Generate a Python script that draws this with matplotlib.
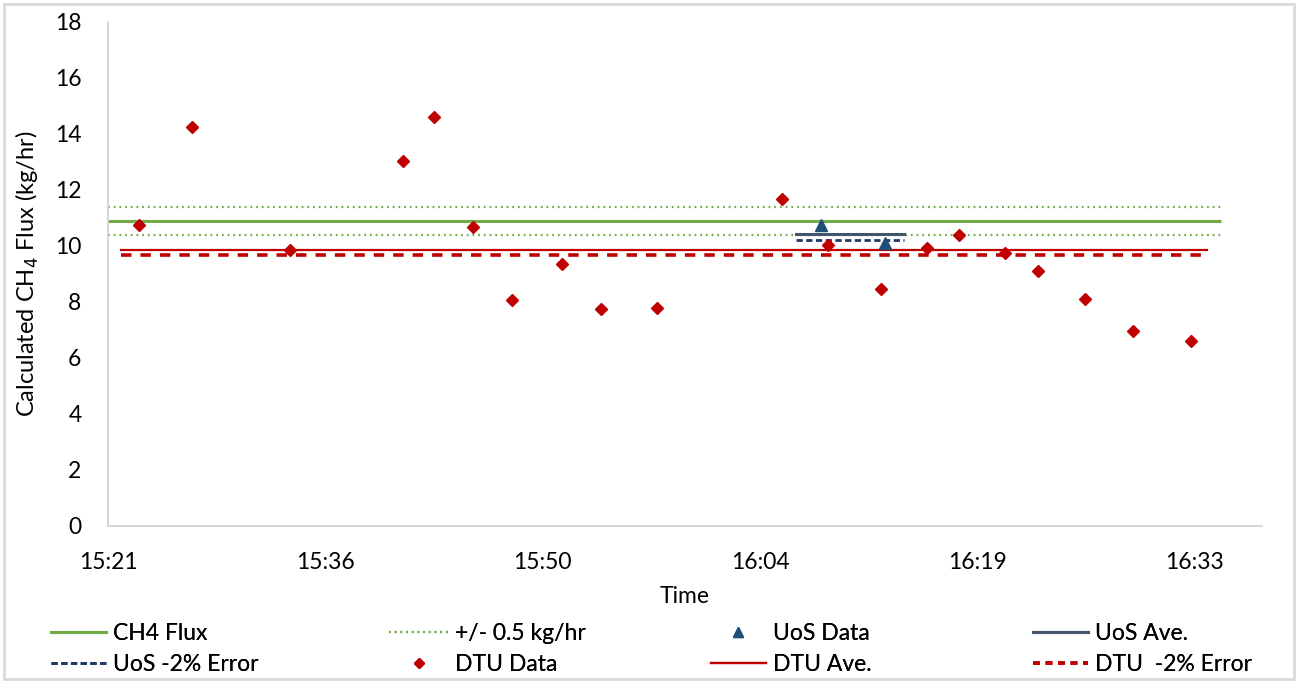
import matplotlib
matplotlib.use('Agg')
import matplotlib.pyplot as plt
from matplotlib.ticker import FuncFormatter, MultipleLocator
from matplotlib.patches import Rectangle
from matplotlib.lines import Line2D

plt.rcParams['font.family'] = ['Lato', 'DejaVu Sans']
plt.rcParams['lines.scale_dashes'] = False

##########################################################
# data (times as hh:mm:ss, flux in kg/hr)
dtu_time = ['15:23:40', '15:27:10', '15:33:38', '15:41:07', '15:43:14',
            '15:45:49', '15:48:24', '15:51:39', '15:54:15', '15:57:59',
            '16:06:14', '16:09:18', '16:12:50', '16:15:54', '16:17:59',
            '16:21:01', '16:23:15', '16:26:21', '16:29:32', '16:33:21']
dtu_flux = [10.75, 14.25, 9.87, 13.05, 14.6,
            10.69, 8.07, 9.35, 7.76, 7.8,
            11.68, 10.04, 8.45, 9.94, 10.38,
            9.76, 9.1, 8.11, 6.98, 6.6]

uos_time = ['16:08:51', '16:13:06']
uos_flux = [10.75, 10.1]

ch4_time = ['15:21:36', '16:35:19']
ch4_flux = 10.9
ch4_err = 0.5

dtu_ave_time = ['15:22:26', '16:34:27']
dtu_ave = 9.87
uos_ave_time = ['16:07:12', '16:14:20']
uos_ave = 10.43
err_frac = 0.02
########################################################

def to_day(t):
    hh, mm, ss = [float(v) for v in t.split(':')]
    return (hh * 3600.0 + mm * 60.0 + ss) / 86400.0

def fmt_time(x, pos):
    s = int(round(x * 86400.0))
    return '%d:%02d' % (s // 3600, (s % 3600) // 60)

dtu_x = [to_day(t) for t in dtu_time]
uos_x = [to_day(t) for t in uos_time]
ch4_x = [to_day(t) for t in ch4_time]
dave_x = [to_day(t) for t in dtu_ave_time]
uave_x = [to_day(t) for t in uos_ave_time]

fig = plt.figure(figsize=(12.98, 6.81), dpi=100)
fig.patches.append(Rectangle((0.003, 0.003), 0.994, 0.991, transform=fig.transFigure,
                             fill=False, edgecolor='#D9D9D9', linewidth=2))
ax = fig.add_axes([108/1298, 1-526/681, (1262-108)/1298, 504/681])

green = '#70AD47'
red = '#C00000'

ax.plot(ch4_x, [ch4_flux]*2, color=green, lw=2.2, solid_capstyle='butt')
ax.plot(ch4_x, [ch4_flux + ch4_err]*2, color=green, lw=1.6, dashes=(1.3, 2.8))
ax.plot(ch4_x, [ch4_flux - ch4_err]*2, color=green, lw=1.6, dashes=(1.3, 2.8))
ax.plot(dave_x, [dtu_ave]*2, color=red, lw=1.6)
ax.plot(dave_x, [dtu_ave*(1-err_frac)]*2, color=red, lw=2.6, dashes=(7.5, 6.5))
ax.plot(uave_x, [uos_ave]*2, color='#44546A', lw=2.2)
ax.plot(uave_x, [uos_ave*(1-err_frac)]*2, color='#1F3864', lw=2.0, dashes=(4.5, 2.5))
ax.plot(dtu_x, dtu_flux, 'D', color=red, ms=6, ls='none')
ax.plot(uos_x, uos_flux, '^', color='#1F4E79', ms=8, ls='none')

ax.set_xlim(0.64, 0.6931)
ax.set_ylim(0, 18)
ax.xaxis.set_major_locator(MultipleLocator(0.01))
ax.xaxis.set_major_formatter(FuncFormatter(fmt_time))
ax.yaxis.set_major_locator(MultipleLocator(2))
ax.tick_params(length=0, labelsize=16.5, colors='#000000')
ax.tick_params(axis='y', pad=19)
ax.tick_params(axis='x', pad=19)
for s in ['top', 'right']:
    ax.spines[s].set_visible(False)
for s in ['left', 'bottom']:
    ax.spines[s].set_color('#D0D0D0')
    ax.spines[s].set_linewidth(1.2)

ax.set_xlabel('Time', fontsize=16.5, labelpad=9)
ax.set_ylabel('Calculated CH$_4$ Flux (kg/hr)', fontsize=17, labelpad=10)

# legend: four small column legends
h_ch4 = Line2D([], [], color=green, lw=2.2)
h_pm = Line2D([], [], color=green, lw=1.6, dashes=(1.3, 2.8))
h_uos = Line2D([], [], marker='^', color='#1F4E79', ms=7, ls='none')
h_uave = Line2D([], [], color='#44546A', lw=2.2)
h_uerr = Line2D([], [], color='#1F3864', lw=2.0, dashes=(4.5, 2.5))
h_dtu = Line2D([], [], marker='D', color=red, ms=5, ls='none')
h_dave = Line2D([], [], color=red, lw=1.6)
h_derr = Line2D([], [], color=red, lw=2.6, dashes=(5, 4))
cols = [([h_ch4, h_uerr], ['CH4 Flux', 'UoS -2% Error'], 36, 2.4),
        ([h_pm, h_dtu], ['+/- 0.5 kg/hr', 'DTU Data'], 374, 2.6),
        ([h_uos, h_dave], ['UoS Data', 'DTU Ave.'], 696, 2.4),
        ([h_uave, h_derr], ['UoS Ave.', 'DTU  -2% Error'], 1018, 2.4)]
for hh, ll, x0, hl in cols:
    leg = fig.legend(hh, ll, loc='lower left', bbox_to_anchor=(x0/1298, -9/681),
                     frameon=False, fontsize=16.5, handlelength=hl,
                     handletextpad=0.3, labelspacing=0.45, borderaxespad=0.25)
    fig.add_artist(leg)

plt.savefig('out.png', dpi=100)
